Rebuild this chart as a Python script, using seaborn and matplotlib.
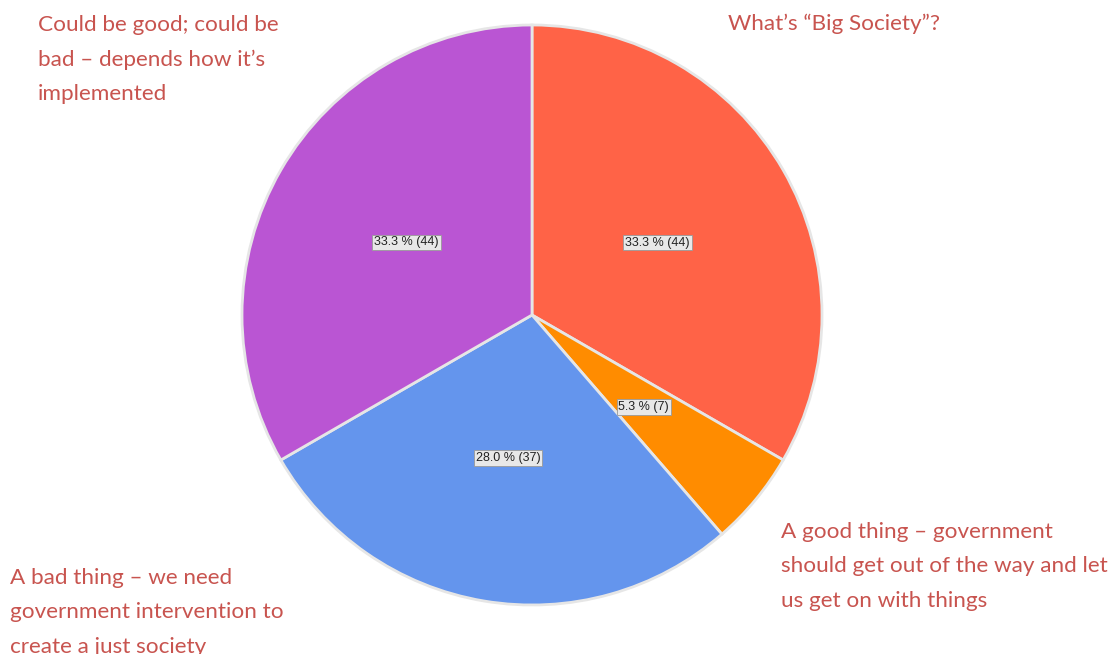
import matplotlib
matplotlib.use('Agg')
import matplotlib.pyplot as plt
import seaborn as sns

# data (clockwise from the top)
answers = ["What\u2019s \u201cBig Society\u201d?",
           "A good thing \u2013 government\nshould get out of the way and let\nus get on with things",
           "A bad thing \u2013 we need\ngovernment intervention to\ncreate a just society",
           "Could be good; could be\nbad \u2013 depends how it\u2019s\nimplemented"]
counts = [44, 7, 37, 44]
colors = ['#FF6347', '#FF8C00', '#6495ED', '#BA55D3']

sns.set_theme(style='white')
plt.rcParams['font.family'] = ['Lato', 'DejaVu Sans']

total = sum(counts)

fig = plt.figure(figsize=(11.1, 6.54), dpi=100)
ax = fig.add_axes([(532 - 290) / 1110, (339 - 290) / 654, 580 / 1110, 580 / 654])

wedges, texts, autotexts = ax.pie(
    counts, colors=colors, startangle=90, counterclock=False,
    autopct=lambda p: f'{p:.1f} % ({round(p * total / 100)})',
    pctdistance=0.5,
    wedgeprops=dict(edgecolor='#e6e6e6', linewidth=2),
)
for t in autotexts:
    t.set_fontsize(9)
    t.set_family(['Liberation Sans Narrow', 'Liberation Sans', 'DejaVu Sans'])
    t.set_color('#222222')
    t.set_bbox(dict(boxstyle='square,pad=0.15', facecolor='#e8e8e8', edgecolor='#999999', linewidth=0.6))
ax.set_xlim(-1, 1)
ax.set_ylim(-1, 1)
ax.set_aspect('equal')
ax.axis('off')

# outer category labels
txt_color = '#C8544F'
pos = [(728 / 1110, 1 - 14 / 654), (781 / 1110, 1 - 522 / 654),
       (10 / 1110, 1 - 568 / 654), (38 / 1110, 1 - 15 / 654)]
for label, (x, y) in zip(answers, pos):
    fig.text(x, y, label, color=txt_color, fontsize=16.2, ha='left', va='top', linespacing=1.9)

fig.savefig('out.png', dpi=100)
